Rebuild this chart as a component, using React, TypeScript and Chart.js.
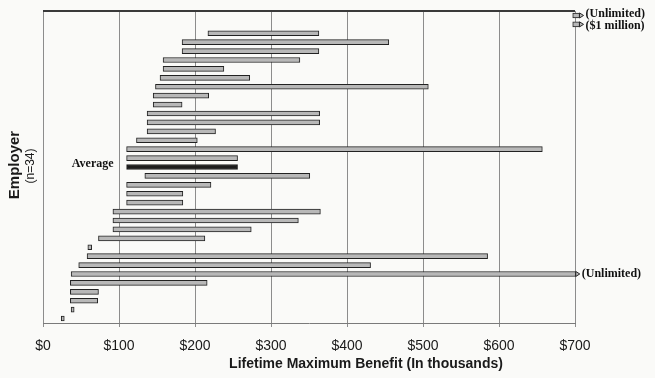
import React, { useEffect, useRef } from 'react';
import { Chart, registerables } from 'chart.js';

Chart.register(...registerables);

// Rows from top to bottom (34 employers + the average)
const employers = [
  'Employer 1', 'Employer 2', 'Employer 3', 'Employer 4', 'Employer 5', 'Employer 6',
  'Employer 7', 'Employer 8', 'Employer 9', 'Employer 10', 'Employer 11', 'Employer 12',
  'Employer 13', 'Employer 14', 'Employer 15', 'Employer 16', 'Employer 17', 'Average',
  'Employer 18', 'Employer 19', 'Employer 20', 'Employer 21', 'Employer 22', 'Employer 23',
  'Employer 24', 'Employer 25', 'Employer 26', 'Employer 27', 'Employer 28', 'Employer 29',
  'Employer 30', 'Employer 31', 'Employer 32', 'Employer 33', 'Employer 34',
];

// Lifetime maximum benefit range, in thousands of dollars
const minBenefit = [
  697, 697, 217, 183, 183, 158, 158, 154, 148, 145, 145, 137, 137, 137, 123, 110, 110,
  110,
  134, 110, 110, 110, 92, 92, 92, 73, 59, 58, 47, 37, 36, 36, 36, 37, 24,
];
const maxBenefit = [
  706, 706, 363, 455, 363, 338, 238, 272, 507, 218, 183, 364, 364, 227, 203, 657, 256,
  256,
  351, 221, 184, 184, 365, 336, 274, 213, 64, 585, 431, 701, 216, 73, 72, 41, 28,
];

const rowNotes = [
  '(Unlimited)', '($1 million)', '', '', '', '', '', '', '', '', '', '', '', '', '', '', '',
  'Average',
  '', '', '', '', '', '', '', '', '', '', '', '(Unlimited)', '', '', '', '', '',
];

const xTicks = [0, 100, 200, 300, 400, 500, 600, 700];

const xTitle = 'Lifetime Maximum Benefit (In thousands)';
const yTitle = 'Employer';
const ySubTitle = '(n=34)';

const decorPlugin = {
  id: 'decor',
  beforeDraw(chart: any) {
    const ctx = chart.ctx;
    ctx.save();
    ctx.fillStyle = '#fafaf8';
    ctx.fillRect(0, 0, chart.width, chart.height);
    ctx.restore();
  },
  afterDatasetsDraw(chart: any) {
    const ctx = chart.ctx;
    const area = chart.chartArea;
    const meta = chart.getDatasetMeta(0);
    ctx.save();
    // top border line
    ctx.strokeStyle = '#3a3a3a';
    ctx.lineWidth = 2;
    ctx.beginPath();
    ctx.moveTo(area.left, area.top);
    ctx.lineTo(area.right, area.top);
    ctx.stroke();

    meta.data.forEach((bar: any, i: number) => {
      const note = rowNotes[i];
      if (!note) return;
      const props = bar.getProps(['x', 'y', 'base'], true);
      const end = Math.max(props.x, props.base);
      const start = Math.min(props.x, props.base);
      ctx.font = 'bold 12px "Liberation Serif", "Times New Roman", serif';
      ctx.fillStyle = '#111';
      ctx.textBaseline = 'middle';
      if (note === 'Average') {
        ctx.textAlign = 'right';
        ctx.fillText(note, start - 13, props.y - 3);
      } else {
        // arrow tip for open-ended rows
        ctx.fillStyle = '#bcbcbc';
        ctx.strokeStyle = '#262626';
        ctx.lineWidth = 1;
        ctx.beginPath();
        ctx.moveTo(end, props.y - 2.5);
        ctx.lineTo(end + 4, props.y);
        ctx.lineTo(end, props.y + 2.5);
        ctx.closePath();
        ctx.fill();
        ctx.stroke();
        // spread adjacent labels a little so they do not collide
        const prevNote = i > 0 && rowNotes[i - 1] && rowNotes[i - 1] !== 'Average';
        const nextNote = i < rowNotes.length - 1 && rowNotes[i + 1] && rowNotes[i + 1] !== 'Average';
        const shift = nextNote ? -1.5 : prevNote ? 1.5 : 0;
        ctx.fillStyle = '#111';
        ctx.textAlign = 'left';
        ctx.fillText(note, end + 6, props.y + shift);
      }
    });

    // x title
    ctx.font = 'bold 14px "Liberation Sans", Arial, sans-serif';
    ctx.fillStyle = '#1a1a1a';
    ctx.textAlign = 'center';
    ctx.textBaseline = 'middle';
    ctx.fillText(xTitle, 366, 364);

    // y title
    ctx.save();
    ctx.translate(15, 165);
    ctx.rotate(-Math.PI / 2);
    ctx.font = 'bold 15px "Liberation Sans", Arial, sans-serif';
    ctx.fillText(yTitle, 0, 0);
    ctx.restore();
    ctx.save();
    ctx.translate(31, 166);
    ctx.rotate(-Math.PI / 2);
    ctx.font = '12px "Liberation Sans", Arial, sans-serif';
    ctx.fillText(ySubTitle, 0, 0);
    ctx.restore();

    ctx.restore();
  },
};

export default function App() {
  const ref = useRef<HTMLCanvasElement | null>(null);
  useEffect(() => {
    if (!ref.current) return;
    const chart = new Chart(ref.current, {
      type: 'bar',
      data: {
        labels: employers,
        datasets: [
          {
            label: 'Lifetime maximum benefit',
            data: minBenefit.map((m, i) => [m, maxBenefit[i]]),
            backgroundColor: employers.map((e) => (e === 'Average' ? '#1c1c1c' : '#b8b8b8')),
            borderColor: '#222222',
            borderWidth: 1,
            borderSkipped: false,
            barThickness: 5,
            clip: false as any,
          } as any,
        ],
      },
      options: {
        indexAxis: 'y',
        animation: false,
        responsive: false,
        layout: { padding: { left: 43, right: 80, top: 11, bottom: 0 } },
        plugins: { legend: { display: false }, tooltip: { enabled: false } },
        scales: {
          y: { type: 'category', display: false },
          x: {
            type: 'linear',
            min: xTicks[0],
            max: xTicks[xTicks.length - 1],
            afterBuildTicks: (s: any) => {
              s.ticks = xTicks.map((v) => ({ value: v }));
            },
            afterFit: (s: any) => {
              s.height = 55;
            },
            ticks: {
              callback: (v: any) => '$' + v,
              color: '#1a1a1a',
              font: { family: '"Liberation Sans", Arial, sans-serif', size: 14 },
              padding: 11,
              maxRotation: 0,
            },
            grid: { color: '#8c8c8c', lineWidth: 1, tickLength: 4, drawTicks: true },
            border: { color: '#7a7a7a' },
          },
        },
      },
      plugins: [decorPlugin],
    });
    return () => chart.destroy();
  }, []);
  return (
    <div style={{ position: 'absolute', left: 0, top: 0, width: 655, height: 378 }}>
      <canvas ref={ref} width={655} height={378} />
    </div>
  );
}
